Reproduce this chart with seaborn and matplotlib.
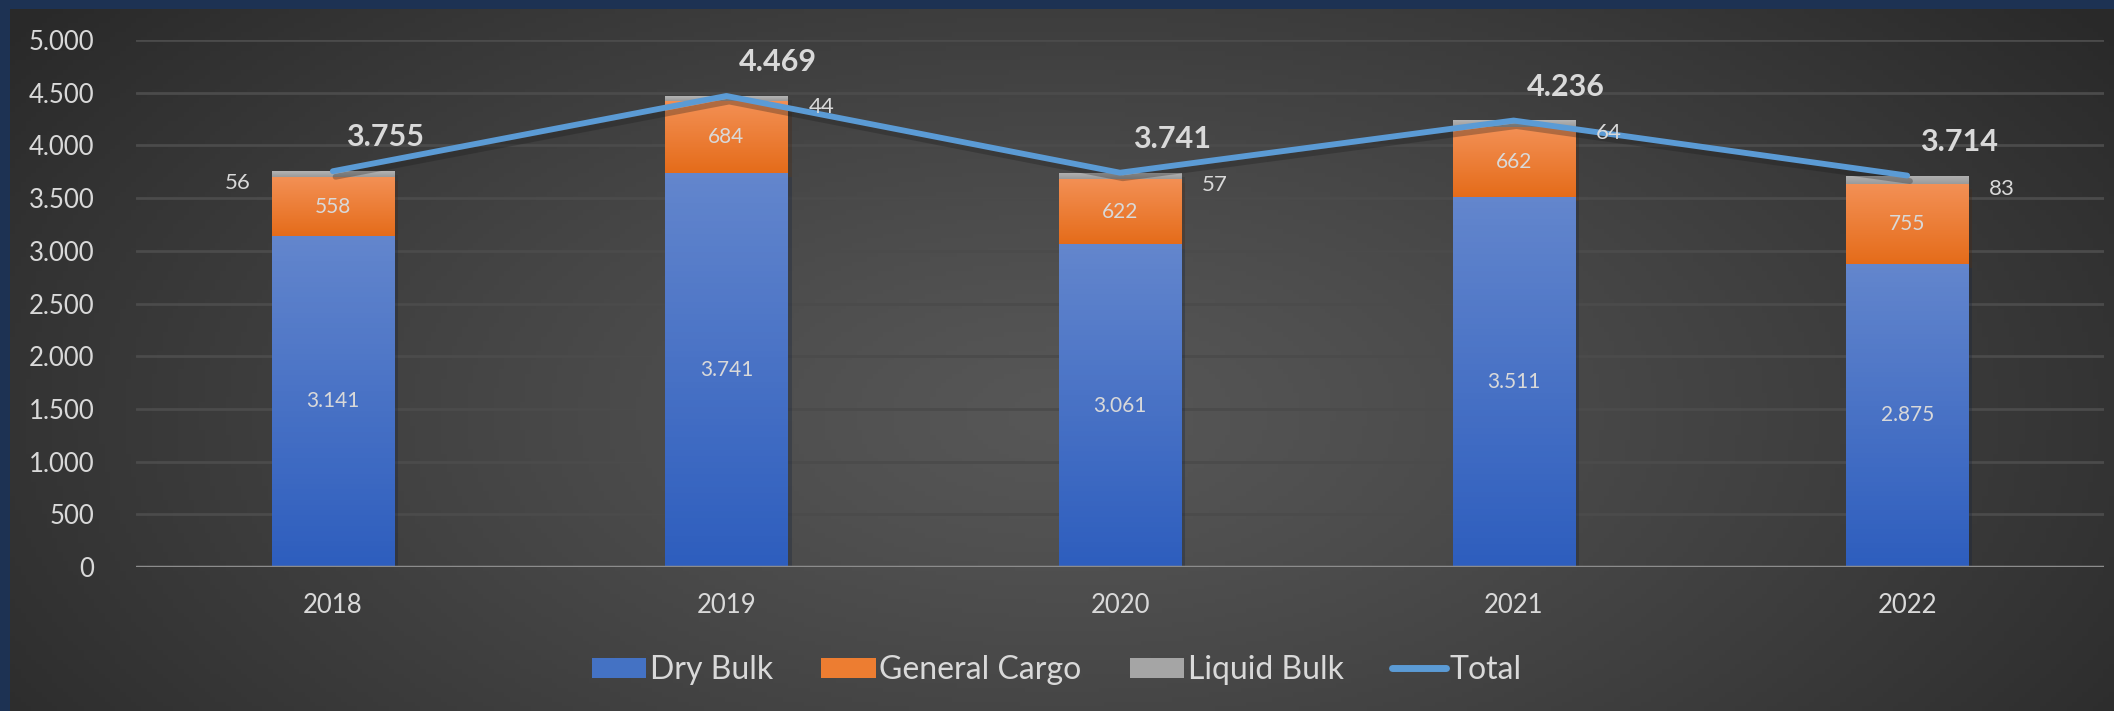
import numpy as np
import pandas as pd
import matplotlib
matplotlib.use("Agg")
import matplotlib.pyplot as plt
import matplotlib.patheffects as pe
from matplotlib.patches import Patch
from matplotlib.lines import Line2D
from matplotlib.colors import to_rgb
import seaborn as sns

# data
years = ["2018", "2019", "2020", "2021", "2022"]
dry_bulk = [3141, 3741, 3061, 3511, 2875]
general_cargo = [558, 684, 622, 662, 755]
liquid_bulk = [56, 44, 57, 64, 83]
total = [3755, 4469, 3741, 4236, 3714]
yticks = [0, 500, 1000, 1500, 2000, 2500, 3000, 3500, 4000, 4500, 5000]

df = pd.DataFrame({"year": years, "dry": dry_bulk, "gen": general_cargo,
                   "liq": liquid_bulk, "total": total})
df["gen_bottom"] = df["dry"]
df["liq_bottom"] = df["dry"] + df["gen"]

sns.set_theme(style="white")
plt.rcParams["font.family"] = ["Lato", "DejaVu Sans"]
txt = "#d9d9d9"

fig = plt.figure(figsize=(21.14, 7.11), dpi=100)
fig.patch.set_facecolor("#1d3253")

# dark radial background
bg = fig.add_axes([10 / 2114, 0, 1 - 10 / 2114, 1 - 9 / 711])
bg.set_axis_off()
gx, gy = np.meshgrid(np.linspace(0, 1, 400), np.linspace(0, 1, 150))
r = np.sqrt(((gx - 0.5) / 0.62) ** 2 + ((gy - 0.42) / 0.95) ** 2)
r = np.clip(r, 0, 1) ** 1.2
c0, c1 = np.array(to_rgb("#575757")), np.array(to_rgb("#292929"))
img = c0[None, None, :] * (1 - r[..., None]) + c1[None, None, :] * r[..., None]
bg.imshow(img, origin="lower", extent=(0, 1, 0, 1), aspect="auto")

ax = fig.add_axes([136 / 2114, 1 - 567 / 711, 1968 / 2114, (567 - 40) / 711])
ax.set_facecolor("none")

w = 0.31
sns.barplot(data=df, x="year", y="dry", color="#4472c4", width=w,
            errorbar=None, ax=ax, saturation=1, linewidth=0, zorder=3)
n_dry = len(ax.patches)
sns.barplot(data=df, x="year", y="gen", bottom=df["gen_bottom"], color="#ed7d31",
            width=w, errorbar=None, ax=ax, saturation=1, linewidth=0, zorder=3)
n_gen = len(ax.patches)
sns.barplot(data=df, x="year", y="liq", bottom=df["liq_bottom"], color="#a5a5a5",
            width=w, errorbar=None, ax=ax, saturation=1, linewidth=0, zorder=3)

grads = {"dry": ("#6386cd", "#2e5ebe"), "gen": ("#f39055", "#e56c1a"),
         "liq": ("#b4b4b4", "#9a9a9a")}
for i, p in enumerate(ax.patches):
    key = "dry" if i < n_dry else ("gen" if i < n_gen else "liq")
    top, bot = np.array(to_rgb(grads[key][0])), np.array(to_rgb(grads[key][1]))
    t = np.linspace(0, 1, 64)[:, None, None]
    g = bot * (1 - t) + top * t
    g = np.repeat(g, 2, axis=1)
    x0, y0 = p.get_x(), p.get_y()
    im = ax.imshow(g, origin="lower", aspect="auto", zorder=3.1,
                   extent=(x0, x0 + p.get_width(), y0, y0 + p.get_height()))
    im.set_clip_path(p)
    p.set_path_effects([pe.SimplePatchShadow(offset=(3, -3), alpha=0.3), pe.Normal()])

xs = np.arange(len(years))
sns.lineplot(x=xs, y=df["total"], ax=ax, color="#5b9bd5", lw=4.2, zorder=5,
             path_effects=[pe.SimpleLineShadow(offset=(2, -4), alpha=0.3), pe.Normal()])

ax.set_xlim(-0.5, len(years) - 0.5)
ax.set_ylim(0, 5000)
ax.set_yticks(yticks)
ax.set_yticklabels([f"{v:,}".replace(",", ".") for v in yticks])
ax.set_xticks(xs)
ax.set_xticklabels(years)
ax.tick_params(axis="both", colors=txt, labelsize=18.5, length=0)
ax.tick_params(axis="y", pad=30)
ax.tick_params(axis="x", pad=19)
ax.set_xlabel("")
ax.set_ylabel("")
for s in ax.spines.values():
    s.set_visible(False)
ax.grid(axis="y", color="#4b4b4b", lw=2, zorder=0)
ax.axhline(0, color="#8c8c8c", lw=2.5, zorder=4)

# labels
for i in range(len(years)):
    d, gc, lq, tt = dry_bulk[i], general_cargo[i], liquid_bulk[i], total[i]
    ax.text(i, d / 2, f"{d:,}".replace(",", "."), ha="center", va="center",
            color=txt, fontsize=15, zorder=6)
    ax.text(i, d + gc / 2, str(gc), ha="center", va="center",
            color=txt, fontsize=15, zorder=6)
    side = -1 if i == 0 else 1
    ax.annotate(str(lq), (i, d + gc + lq / 2), xytext=(side * 95, -9),
                textcoords="offset pixels", ha="center", va="center",
                color=txt, fontsize=16, zorder=6)
    ax.annotate(f"{tt:,}".replace(",", "."), (i, tt), xytext=(52, 34),
                textcoords="offset pixels", ha="center", va="center",
                color=txt, fontsize=22, fontweight="bold", zorder=6)

handles = [Patch(facecolor="#4472c4", edgecolor="none", label="Dry Bulk"),
           Patch(facecolor="#ed7d31", edgecolor="none", label="General Cargo"),
           Patch(facecolor="#a5a5a5", edgecolor="none", label="Liquid Bulk"),
           Line2D([0], [0], color="#5b9bd5", lw=5, label="Total")]
fig.legend(handles=handles, loc="center", bbox_to_anchor=(0.5, 1 - 670 / 711),
           ncol=4, frameon=False, fontsize=23, labelcolor=txt,
           handlelength=1.7, handleheight=0.6, handletextpad=0.12, columnspacing=1.5)

fig.savefig("out.png", dpi=100, facecolor=fig.get_facecolor())
